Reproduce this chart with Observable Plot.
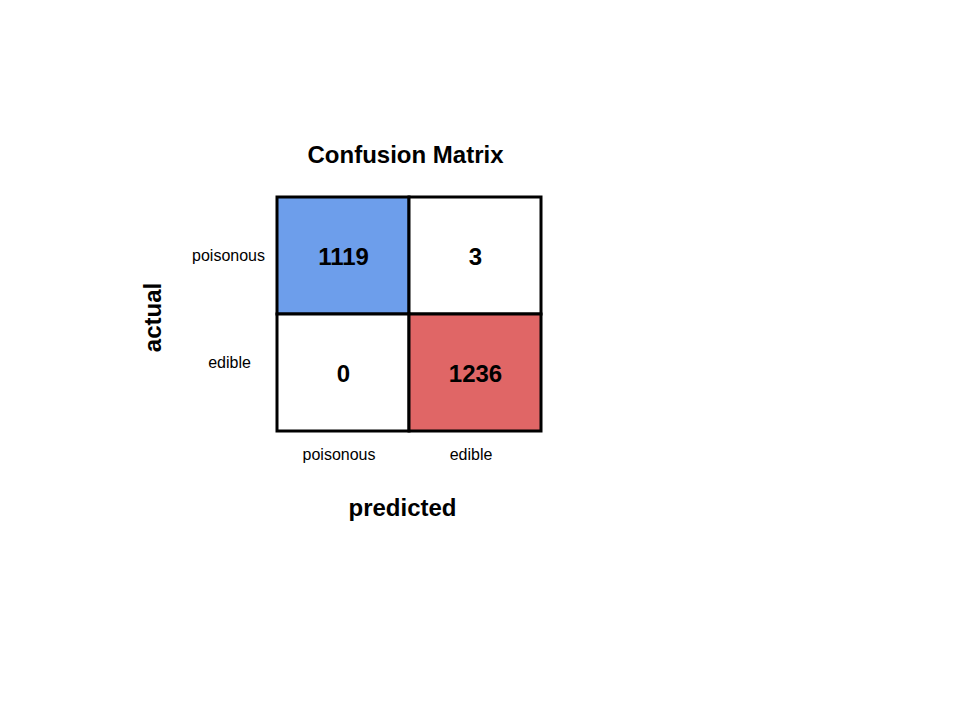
<!DOCTYPE html>
<html>
<head>
<meta charset="utf-8">
<script src="https://cdn.jsdelivr.net/npm/d3@7"></script>
<script src="https://cdn.jsdelivr.net/npm/@observablehq/plot@0.6"></script>
<style>
  html, body { margin: 0; padding: 0; background: #fff; }
  svg { font-family: "Liberation Sans", Arial, sans-serif; }
</style>
</head>
<body>
<div id="chart"></div>
<script>
const classes = ["poisonous", "edible"];
const actualLabels = ["poisonous", "poisonous", "edible", "edible"];
const predictedLabels = ["poisonous", "edible", "poisonous", "edible"];
const counts = [1119, 3, 0, 1236];
const titleText = ["Confusion Matrix"];
const xLabel = ["predicted"];
const yLabel = ["actual"];

const data = counts.map((v, i) => ({actual: actualLabels[i], predicted: predictedLabels[i], count: v}));

const font = "Liberation Sans, Arial, sans-serif";

const chart = Plot.plot({
  width: 960,
  height: 720,
  marginLeft: 277,
  marginRight: 419,
  marginTop: 197,
  marginBottom: 289,
  style: {fontFamily: font, background: "#fff"},
  x: {domain: classes, padding: 0, label: null},
  y: {domain: classes, padding: 0, label: null},
  color: {type: "ordinal", domain: ["poisonous", "edible", "off"], range: ["#6d9eeb", "#e06666", "#ffffff"]},
  marks: [
    Plot.cell(data, {
      x: "predicted", y: "actual",
      fill: d => d.actual === d.predicted ? d.actual : "off",
      stroke: "black", strokeWidth: 3
    }),
    Plot.text(data, {
      x: "predicted", y: "actual", text: d => String(d.count),
      fontSize: 24, fontWeight: "bold", fill: "black", dy: 1
    }),
    Plot.axisX({anchor: "bottom", tickSize: 0, tickPadding: 17, fontSize: 16, dx: -4.5, label: null}),
    Plot.axisY({anchor: "left", ticks: ["poisonous"], tickSize: 0, tickPadding: 49, textAnchor: "middle", fontSize: 16, label: null}),
    Plot.axisY({anchor: "left", ticks: ["edible"], tickSize: 0, tickPadding: 48, textAnchor: "middle", fontSize: 16, dy: -10, label: null}),
    Plot.text(titleText, {frameAnchor: "top", text: d => d, lineAnchor: "middle", dy: -42, dx: -4, fontSize: 24, fontWeight: "bold", fill: "black"}),
    Plot.text(xLabel, {frameAnchor: "bottom", text: d => d, lineAnchor: "middle", dy: 77, dx: -7, fontSize: 24, fontWeight: "bold", fill: "black"}),
    Plot.text(yLabel, {frameAnchor: "left", text: d => d, textAnchor: "middle", lineAnchor: "middle", rotate: -90, dx: -124, dy: 3, fontSize: 24, fontWeight: "bold", fill: "black"})
  ]
});

document.getElementById("chart").appendChild(chart);
</script>
</body>
</html>
